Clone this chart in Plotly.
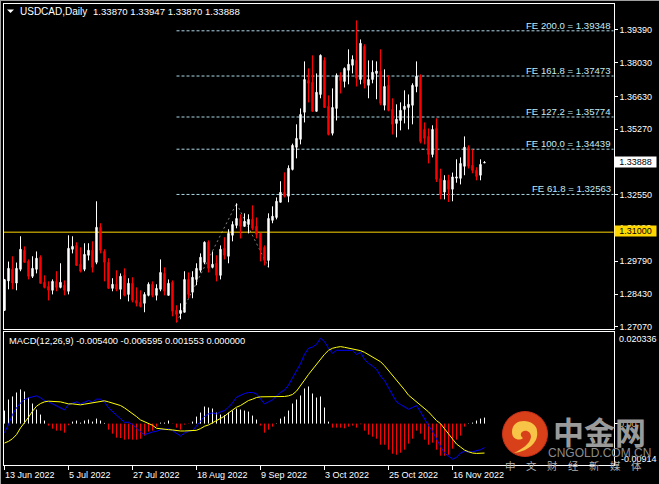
import plotly.graph_objects as go

W, H = 659, 484
FONT = "Liberation Sans"

opens = [1.2776,1.2898,1.2946,1.2889,1.2946,1.3025,1.2979,1.2917,1.2946,1.2996,
1.2892,1.2875,1.2859,1.2896,1.2871,1.2880,1.2855,1.3029,1.3045,1.2967,
1.2946,1.3004,1.3025,1.2975,1.3120,1.3020,1.2975,1.2867,1.2884,1.2863,
1.2921,1.2842,1.2888,1.2817,1.2809,1.2805,1.2838,1.2884,1.2838,1.2863,
1.2929,1.2838,1.2892,1.2776,1.2763,1.2768,1.2904,1.2851,1.2904,1.2942,
1.2975,1.3058,1.2954,1.2971,1.2921,1.3033,1.3000,1.3087,1.3128,1.3157,
1.3124,1.3132,1.3153,1.3124,1.3095,1.3037,1.2983,1.3149,1.3161,1.3224,
1.3265,1.3249,1.3360,1.3452,1.3485,1.3597,1.3729,1.3721,1.3601,1.3671,
1.3812,1.3622,1.3510,1.3613,1.3750,1.3725,1.3771,1.3792,1.3812,1.3733,
1.3870,1.3709,1.3733,1.3758,1.3767,1.3626,1.3709,1.3609,1.3551,1.3563,
1.3609,1.3617,1.3626,1.3704,1.3746,1.3526,1.3497,1.3422,1.3530,1.3322,
1.3266,1.3315,1.3278,1.3324,1.3323,1.3373,1.3452,1.3377,1.3356,1.3336,1.33870]
highs = [1.2906,1.2978,1.3000,1.2974,1.3083,1.3041,1.2987,1.3000,1.3020,1.3004,
1.2921,1.2896,1.2904,1.2938,1.2971,1.2900,1.3087,1.3083,1.3058,1.3037,
1.3054,1.3054,1.3062,1.3228,1.3137,1.3029,1.2992,1.2909,1.2942,1.2929,
1.2950,1.2909,1.2913,1.2871,1.2859,1.2851,1.2892,1.2896,1.2884,1.2987,
1.2954,1.2904,1.2900,1.2797,1.2805,1.2938,1.2933,1.2938,1.2971,1.3012,
1.3062,1.3066,1.3020,1.3004,1.3045,1.3079,1.3112,1.3145,1.3219,1.3174,
1.3178,1.3174,1.3211,1.3161,1.3095,1.3045,1.3178,1.3207,1.3244,1.3311,
1.3348,1.3377,1.3467,1.3547,1.3613,1.3808,1.3779,1.3833,1.3758,1.3837,
1.3825,1.3667,1.3696,1.3758,1.3763,1.3783,1.3858,1.3833,1.3978,1.3899,
1.3879,1.3812,1.3812,1.3808,1.3858,1.3775,1.3750,1.3655,1.3630,1.3638,
1.3688,1.3671,1.3717,1.3808,1.3754,1.3555,1.3530,1.3543,1.3572,1.3363,
1.3336,1.3338,1.3347,1.3402,1.3410,1.3497,1.3460,1.3443,1.3369,1.3402,1.33947]
lows = [1.2773,1.2863,1.2863,1.2859,1.2938,1.2975,1.2904,1.2910,1.2929,1.2888,
1.2867,1.2817,1.2842,1.2855,1.2867,1.2838,1.2842,1.3012,1.2962,1.2933,
1.2938,1.2983,1.2933,1.2967,1.3012,1.2896,1.2867,1.2855,1.2855,1.2822,
1.2834,1.2813,1.2809,1.2792,1.2788,1.2768,1.2834,1.2830,1.2817,1.2855,
1.2838,1.2838,1.2751,1.2726,1.2739,1.2768,1.2826,1.2826,1.2880,1.2933,
1.2967,1.2933,1.2950,1.2896,1.2904,1.2987,1.2971,1.3062,1.3116,1.3074,
1.3124,1.3095,1.3108,1.3074,1.2979,1.2962,1.2954,1.3137,1.3153,1.3224,
1.3244,1.3224,1.3356,1.3406,1.3464,1.3555,1.3638,1.3601,1.3601,1.3655,
1.3617,1.3501,1.3501,1.3563,1.3675,1.3700,1.3713,1.3758,1.3704,1.3713,
1.3696,1.3655,1.3717,1.3651,1.3626,1.3605,1.3601,1.3505,1.3493,1.3522,
1.3551,1.3526,1.3547,1.3680,1.3468,1.3464,1.3385,1.3410,1.3308,1.3236,
1.3236,1.3225,1.3228,1.3305,1.3298,1.3336,1.3364,1.3344,1.3315,1.3315,1.33870]
closes = [1.2903,1.2950,1.2889,1.2950,1.3029,1.2975,1.2917,1.2950,1.2992,1.2888,
1.2871,1.2859,1.2896,1.2871,1.2892,1.2859,1.3033,1.3041,1.2962,1.2938,
1.3008,1.3025,1.2954,1.3120,1.3025,1.2975,1.2867,1.2884,1.2863,1.2917,
1.2838,1.2888,1.2817,1.2805,1.2792,1.2842,1.2884,1.2838,1.2867,1.2933,
1.2855,1.2888,1.2772,1.2759,1.2776,1.2904,1.2842,1.2913,1.2950,1.2996,
1.3058,1.2950,1.2967,1.2921,1.3029,1.3004,1.3095,1.3132,1.3157,1.3124,
1.3145,1.3153,1.3116,1.3091,1.3025,1.2983,1.3157,1.3166,1.3228,1.3265,
1.3249,1.3365,1.3460,1.3489,1.3588,1.3733,1.3717,1.3601,1.3680,1.3833,
1.3617,1.3505,1.3617,1.3750,1.3729,1.3779,1.3796,1.3816,1.3738,1.3883,
1.3717,1.3733,1.3763,1.3768,1.3634,1.3704,1.3605,1.3547,1.3568,1.3605,
1.3622,1.3630,1.3709,1.3746,1.3476,1.3489,1.3422,1.3526,1.3319,1.3257,
1.3315,1.3278,1.3329,1.3329,1.3385,1.3452,1.3373,1.3356,1.3331,1.3381,1.33888]

macd_hist = [.00288,.00532,.00599,.00687,.00754,.00709,.00576,.00443,.00310,.00200,
.00067,-.00044,-.00111,-.00155,-.00155,-.00200,-.00037,.00044,.00067,.00022,
.00067,.00089,.00044,.00111,.00067,.00015,-.00133,-.00222,-.00310,-.00318,
-.00355,-.00347,-.00355,-.00355,-.00333,-.00266,-.00177,-.00155,-.00067,.00022,
.00022,.00067,-.00007,-.00089,-.00133,-.00022,-.00007,.00044,.00155,.00244,
.00377,.00355,.00333,.00244,.00200,.00185,.00244,.00288,.00333,.00310,
.00288,.00266,.00177,.00089,-.00044,-.00200,-.00133,-.00067,.00007,.00111,
.00155,.00288,.00443,.00532,.00621,.00776,.00820,.00665,.00576,.00599,
.00355,.00044,-.00089,-.00089,-.00089,-.00103,-.00067,-.00044,-.00089,-.00015,
-.00155,-.00244,-.00288,-.00333,-.00466,-.00466,-.00576,-.00665,-.00687,-.00643,
-.00576,-.00443,-.00333,-.00155,-.00222,-.00355,-.00466,-.00421,-.00576,-.00709,
-.00709,-.00687,-.00554,-.00355,-.00266,-.00067,.00007,.00022,.00067,.00111,.00133]
macd_line = [-.00200,-.00022,.00200,.00347,.00458,.00532,.00569,.00599,.00613,.00569,
.00510,.00480,.00436,.00384,.00347,.00303,.00421,.00458,.00480,.00436,
.00480,.00510,.00473,.00539,.00539,.00480,.00347,.00259,.00185,.00111,
.00030,.00030,-.00022,-.00096,-.00185,-.00244,-.00207,-.00185,-.00170,-.00133,
-.00133,-.00111,-.00155,-.00207,-.00273,-.00207,-.00170,-.00155,-.00059,.00052,
.00163,.00214,.00236,.00214,.00259,.00288,.00362,.00458,.00584,.00628,
.00665,.00687,.00687,.00658,.00554,.00436,.00480,.00525,.00606,.00695,
.00739,.00850,.01012,.01160,.01323,.01530,.01663,.01692,.01751,.01884,
.01811,.01663,.01552,.01618,.01618,.01618,.01618,.01618,.01530,.01574,
.01419,.01330,.01271,.01197,.01049,.00953,.00791,.00628,.00480,.00421,
.00370,.00318,.00355,.00399,.00259,.00103,-.00044,-.00170,-.00355,-.00503,
-.00650,-.00724,-.00783,-.00746,-.00650,-.00613,-.00628,-.00621,-.00599,-.00576,-.00532]
macd_signal = [-.00429,-.00392,-.00333,-.00244,-.00096,.00015,.00140,.00273,.00384,.00443,
.00480,.00495,.00495,.00495,.00480,.00458,.00436,.00436,.00421,.00414,
.00429,.00443,.00451,.00473,.00488,.00503,.00480,.00458,.00436,.00399,
.00347,.00288,.00222,.00155,.00081,.00037,-.00007,-.00037,-.00103,-.00118,
-.00126,-.00133,-.00140,-.00155,-.00163,-.00163,-.00163,-.00155,-.00148,-.00111,
-.00059,-.00030,.00015,.00067,.00111,.00163,.00236,.00303,.00362,.00399,
.00451,.00510,.00539,.00576,.00591,.00591,.00591,.00591,.00591,.00591,
.00599,.00613,.00643,.00717,.00828,.00961,.01086,.01197,.01323,.01434,
.01530,.01618,.01663,.01685,.01700,.01685,.01670,.01655,.01633,.01611,
.01574,.01522,.01478,.01426,.01367,.01278,.01175,.01072,.00953,.00850,
.00746,.00628,.00554,.00480,.00421,.00347,.00259,.00163,.00067,0.0,
-.00111,-.00222,-.00333,-.00451,-.00517,-.00584,-.00621,-.00650,-.00658,-.00658,-.00650]

fe_levels = [1.39348, 1.37473, 1.35774, 1.34439, 1.32563]
fe_labels = ["FE 200.0 = 1.39348", "FE 161.8 = 1.37473", "FE 127.2 = 1.35774",
             "FE 100.0 = 1.34439", "FE 61.8 = 1.32563"]
fe_start_bar = 43
fe_swing_bars = [43, 58, 66]
fe_swing_values = [1.2726, 1.3219, 1.2954]
support_level = 1.31
last_price = 1.33888
main_ticks = [1.3939, 1.3803, 1.3663, 1.3527, 1.3391, 1.3255, 1.3119, 1.2979, 1.2843, 1.2707]
date_bars = [0, 16, 32, 48, 64, 80, 96, 112]
date_labels = ["13 Jun 2022", "5 Jul 2022", "27 Jul 2022", "18 Aug 2022",
               "9 Sep 2022", "3 Oct 2022", "25 Oct 2022", "16 Nov 2022"]

X_RANGE = [-0.25, 152.3]
Y_MAIN = [1.26985, 1.4048]
Y_MACD = [-0.00914, 0.020336]

def px(x):
    return x / W

def py(y):
    return 1 - y / H

bars = list(range(len(closes)))

fig = go.Figure()
fig.add_trace(go.Candlestick(
    x=bars, open=opens, high=highs, low=lows, close=closes,
    increasing=dict(line=dict(color="#ffffff", width=1), fillcolor="#ffffff"),
    decreasing=dict(line=dict(color="#ff0000", width=1), fillcolor="#ff0000"),
    whiskerwidth=0, xaxis="x", yaxis="y", showlegend=False, hoverinfo="skip"))

def stems(positive):
    xs, ys = [], []
    for i, v in enumerate(macd_hist):
        if (v >= 0) == positive:
            xs += [i, i, None]
            ys += [0, v, None]
    return xs, ys

for positive, colour in [(True, "#ffffff"), (False, "#ff0000")]:
    hx, hy = stems(positive)
    fig.add_trace(go.Scatter(x=hx, y=hy, mode="lines", line=dict(color=colour, width=1),
                             xaxis="x2", yaxis="y2", showlegend=False, hoverinfo="skip"))
fig.add_trace(go.Scatter(
    x=list(range(len(macd_line))), y=macd_line, mode="lines",
    line=dict(color="#0000ff", width=1), xaxis="x2", yaxis="y2", showlegend=False, hoverinfo="skip"))
fig.add_trace(go.Scatter(
    x=list(range(len(macd_signal))), y=macd_signal, mode="lines",
    line=dict(color="#ffff00", width=1), xaxis="x2", yaxis="y2", showlegend=False, hoverinfo="skip"))

shapes = []
for lv in fe_levels:
    shapes.append(dict(type="line", xref="x", yref="y", x0=fe_start_bar, x1=X_RANGE[1], y0=lv, y1=lv,
                       line=dict(color="#add8e6", width=1, dash="3px,2px"), layer="below"))
for i in range(len(fe_swing_bars) - 1):
    shapes.append(dict(type="line", xref="x", yref="y",
                       x0=fe_swing_bars[i], x1=fe_swing_bars[i + 1],
                       y0=fe_swing_values[i], y1=fe_swing_values[i + 1],
                       line=dict(color="#808080", width=1, dash="2px,3px"), layer="below"))
shapes.append(dict(type="line", xref="x", yref="y", x0=X_RANGE[0], x1=X_RANGE[1],
                   y0=support_level, y1=support_level,
                   line=dict(color="#ffd700", width=1), layer="below"))
shapes.append(dict(type="line", xref="paper", yref="paper", x0=0, x1=1, y0=py(0.5), y1=py(0.5),
                   line=dict(color="#a0a0a0", width=1)))
shapes.append(dict(type="line", xref="paper", yref="paper", x0=px(0.5), x1=px(0.5), y0=0, y1=1,
                   line=dict(color="#a0a0a0", width=1)))

def path(points):
    return "M " + " L ".join(f"{px(a)},{py(b)}" for a, b in points) + " Z"
shapes.append(dict(type="path", xref="paper", yref="paper", path=path([(7, 9.5), (14, 9.5), (10.5, 13)]),
                   fillcolor="#ffffff", line=dict(width=0)))

shapes.append(dict(type="circle", xref="paper", yref="paper", x0=px(502.5), x1=px(547.5),
                   y0=py(456.5), y1=py(411.5), fillcolor="#d8401a", line=dict(color="#c8301a", width=1)))
def curve(cmds):
    out = []
    for c in cmds:
        if c[0] == "Z":
            out.append("Z")
        else:
            coords = " ".join(f"{px(c[i])},{py(c[i + 1])}" for i in range(1, len(c), 2))
            out.append(f"{c[0]} {coords}")
    return " ".join(out)
swirl = [("M", 512, 432), ("C", 512, 424, 518, 421, 524, 421), ("C", 530, 421, 537, 425, 537, 431),
         ("C", 539, 441, 530, 451, 514, 453), ("C", 522, 449, 530, 444, 531, 437),
         ("C", 531, 432, 527, 430, 524, 431), ("C", 520, 432, 520, 436, 523, 438),
         ("C", 520, 441, 512, 440, 512, 432), ("Z",)]
shapes.append(dict(type="path", xref="paper", yref="paper", path=curve(swirl),
                   fillcolor="#f8c448", line=dict(width=0)))

ann = []
def text(x, y, s, size=9, color="#ffffff", anchor="left", **kw):
    ann.append(dict(x=px(x), y=py(y), xref="paper", yref="paper", text=s, showarrow=False,
                    xanchor=anchor, yanchor="middle", borderpad=0,
                    font=dict(family=kw.pop("family", FONT), size=size, color=color), **kw))

text(19, 11.5, "USDCAD,Daily", size=10)
text(91.5, 11.5, f"{opens[-1]:.5f} {highs[-1]:.5f} {lows[-1]:.5f} {closes[-1]:.5f}", size=9.6)
text(8, 340.7, "MACD(12,26,9) -0.005400 -0.006595 0.001553 0.000000", size=9.3)
for lv, lb in zip(fe_levels, fe_labels):
    text(612, (Y_MAIN[1] - lv) / (Y_MAIN[1] - Y_MAIN[0]) * 325.5 + 3.5 - 5.5, lb, size=9.6, color="#c4eaf4", anchor="right")
for b, lb in zip(date_bars, date_labels):
    text(4 + 4 * b, 474.5, lb, size=9)
text(617.5, 338.7, "0.020336", size=9)
text(620, 458.5, "-0.00914", size=9)
text(618, 424, "0.00", size=9, color="#ffb060")
ann.append(dict(x=px(635.5), y=py(161.5), xref="paper", yref="paper", text=f"{last_price:.5f}", showarrow=False,
                xanchor="center", yanchor="middle", width=41, height=10, bgcolor="#ffffff", borderpad=0,
                font=dict(family=FONT, size=9, color="#000000")))
ann.append(dict(x=px(635.5), y=py(231), xref="paper", yref="paper", text=f"{support_level:.5f}", showarrow=False,
                xanchor="center", yanchor="middle", width=41, height=10, bgcolor="#ffd700", borderpad=0,
                font=dict(family=FONT, size=9, color="#000000")))
text(599, 430.5, "<b>中金网</b>", size=31, color="#9a9a9a", anchor="center", family="Noto Sans CJK SC")
text(599, 452.5, "CNGOLD.COM.CN", size=12, color="#8c8c8c", anchor="center")
text(573.7, 465.7, "中\u3000文\u3000财\u3000经\u3000新\u3000媒\u3000体", size=10.5, color="#b0b0b0",
     anchor="center", family="Noto Sans CJK SC")

x_dom = [px(3.5), px(613.7)]
fig.update_layout(
    width=W, height=H, autosize=False, margin=dict(l=0, r=0, t=0, b=0, pad=0, autoexpand=False),
    paper_bgcolor="#000000", plot_bgcolor="#000000", showlegend=False,
    boxgap=0.5, dragmode=False,
    shapes=shapes, annotations=ann,
    xaxis=dict(domain=x_dom, range=X_RANGE, showgrid=False, zeroline=False, showticklabels=False, ticks="",
               showline=True, linecolor="#ffffff", linewidth=1, mirror=True, rangeslider=dict(visible=False),
               anchor="y"),
    yaxis=dict(domain=[py(329), py(3.5)], range=Y_MAIN, side="right", showgrid=False, zeroline=False,
               tickvals=main_ticks, ticktext=[f"{v:.5f}" for v in main_ticks],
               ticks="outside", ticklen=3, tickcolor="#ffffff", tickwidth=1,
               tickfont=dict(family=FONT, size=9, color="#ffffff"),
               showline=True, linecolor="#ffffff", linewidth=1, mirror=True, anchor="x"),
    xaxis2=dict(domain=x_dom, range=X_RANGE, showgrid=False, zeroline=False,
                tickvals=date_bars, ticktext=[""] * len(date_bars), ticks="outside", ticklen=4,
                tickcolor="#ffffff", showline=True, linecolor="#ffffff", linewidth=1, mirror=True, anchor="y2"),
    yaxis2=dict(domain=[py(465), py(331.5)], range=Y_MACD, side="right", showgrid=False, zeroline=False,
                tickvals=[0.0], ticktext=[""], ticks="outside", ticklen=3, tickcolor="#ffffff",
                showline=True, linecolor="#ffffff", linewidth=1, mirror=True, anchor="x2"),
)
fig.write_html("out.html", config=dict(displayModeBar=False),
               post_script="document.body.style.margin='0';document.body.style.background='#000';document.documentElement.style.overflow='hidden';")
